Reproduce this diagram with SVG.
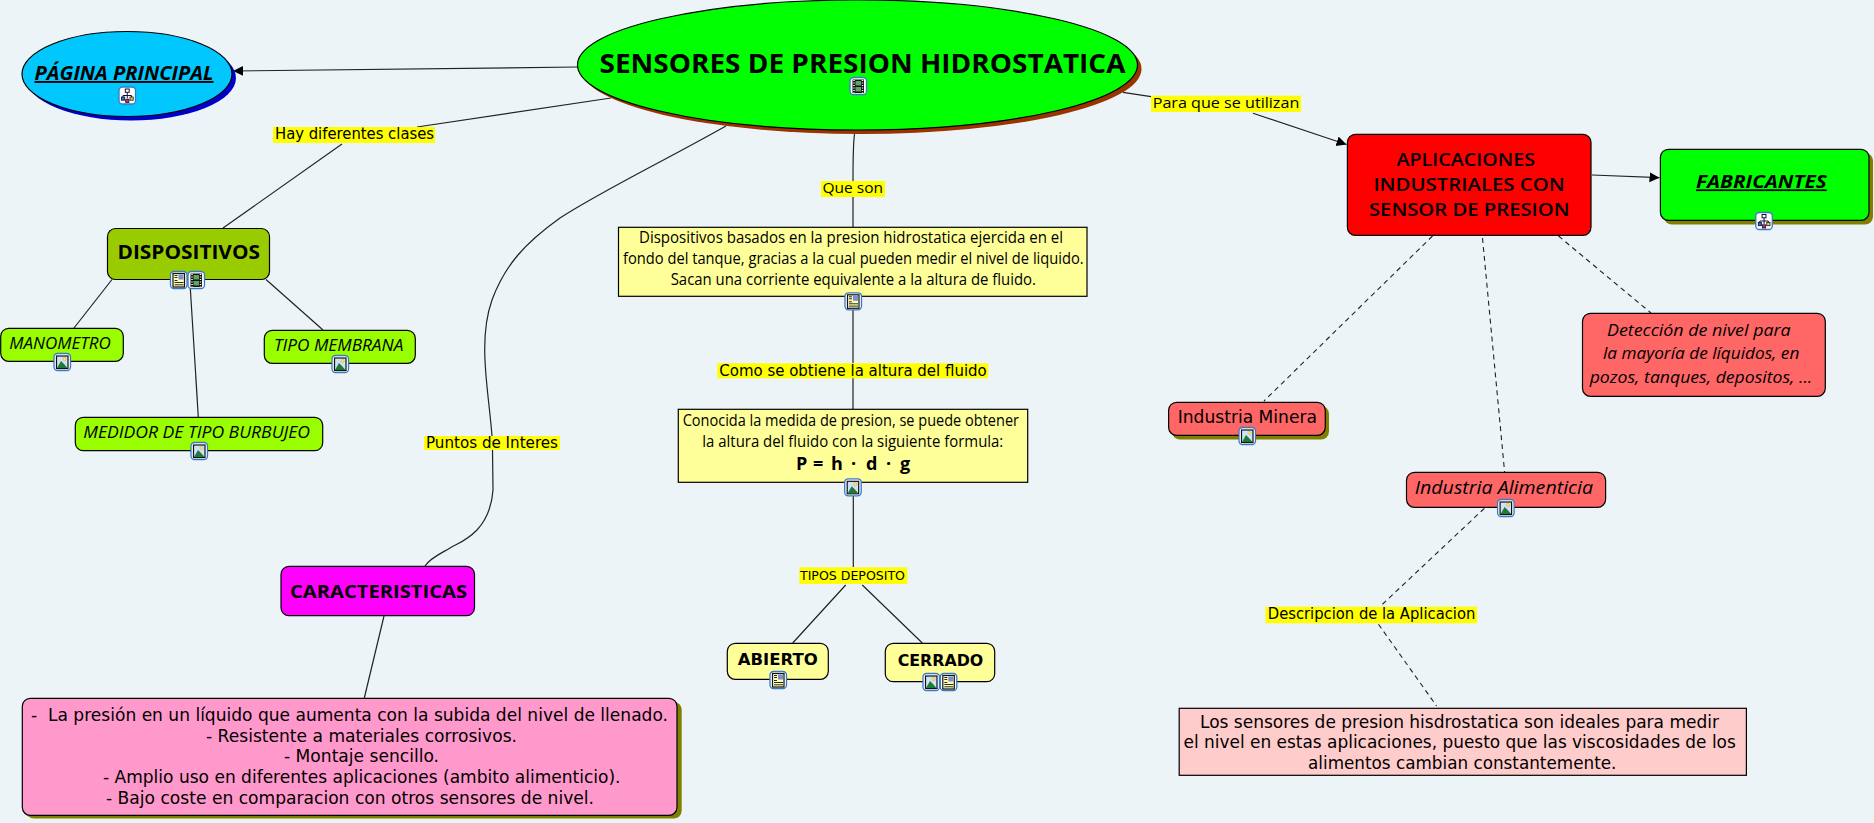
<svg xmlns="http://www.w3.org/2000/svg" width="1874" height="823" viewBox="0 0 1874 823">
<style>
text{font-family:"Open Sans","Noto Sans","DejaVu Sans",sans-serif;fill:#000;white-space:pre}
.v{font-family:"DejaVu Sans","Liberation Sans",sans-serif}
.b{font-weight:700}
.i{font-style:italic}
.u{text-decoration:underline}
.n{stroke:#000;stroke-width:1.2}
.c{fill:none;stroke:#222;stroke-width:1.2}
.d{fill:none;stroke:#222;stroke-width:1.1;stroke-dasharray:5 4}
.l{fill:#ff0}
.s{stroke:none}
</style>
<defs>
<marker id="arrow" markerUnits="userSpaceOnUse" markerWidth="11" markerHeight="11" refX="10" refY="5" orient="auto"><path d="M0 0L10 5L0 10Z" fill="#000"/></marker>
<g id="frame"><rect x="-8" y="-8.500" width="16.500" height="17" rx="3.500" fill="#fff" stroke="#3a78c8" stroke-width="1.300"/></g>
<g id="img"><use href="#frame"/><rect x="-5.500" y="-6" width="11.500" height="12.500" fill="#cfe2f8" stroke="#111" stroke-width="1.200"/><circle cx="2.500" cy="-3" r="1.600" fill="#ffe680" stroke="#b90" stroke-width=".4"/><path d="M-5 6L-1 -1L2 2L5.500 6Z" fill="#1f7a35"/></g>
<g id="doc"><use href="#frame"/><rect x="-5.500" y="-6.500" width="11.500" height="13.500" fill="#ffffb8" stroke="#111" stroke-width="1.200"/><rect x="0" y="-5.500" width="5" height="5" fill="#7a8ed8"/><path d="M-4 -4.500H-1M-4 -2.500H-1M-4 .5H-1M-4 2.500H5M-4 4.800H5" stroke="#111" stroke-width=".9"/></g>
<g id="film"><use href="#frame"/><rect x="-5.500" y="-6.500" width="11.500" height="13.500" fill="#111"/><rect x="-2.500" y="-5" width="5.500" height="4.500" fill="#5fa55f"/><rect x="-2.500" y="1" width="5.500" height="4.500" fill="#5fa55f"/><path d="M-4 -6V7M4.500 -6V7" stroke="#fff" stroke-width="1.500" stroke-dasharray="1 1.500"/></g>
<g id="map"><use href="#frame"/><path d="M.25 -3V3M-4 1.500V0H4.500V1.500" fill="none" stroke="#113" stroke-width="1"/><rect x="-1.700" y="-6.500" width="3.900" height="3.300" fill="#fff" stroke="#113" stroke-width="1"/><rect x="-5.500" y="1.500" width="3.200" height="3.200" fill="#36c" stroke="#113" stroke-width=".8"/><rect x="3" y="1.500" width="3.200" height="3.200" fill="#fc3" stroke="#113" stroke-width=".8"/><rect x="-1.300" y="3.800" width="3.200" height="3.200" fill="#c33" stroke="#113" stroke-width=".8"/></g>
</defs>
<rect width="1874" height="823" fill="#edf4f7"/>

<g id="connectors">
<path class="c" marker-end="url(#arrow)" d="M578 67L233 71"/>
<path class="c" d="M611 98L417 127"/>
<path class="c" d="M342 144L223 228"/>
<path class="c" d="M112 279.500L74 328"/>
<path class="c" d="M266 279.500L323 330"/>
<path class="c" d="M190.300 288L198.300 417"/>
<path class="c" d="M726 126C660 163 600 192 560 218C525 243 505 265 492 300C485 320 484 340 485 360C486 385 490 410 492 436M492.500 450L493 490C492 505 488 518 477 530C465 542 458 543 450 548C440 554 430 558 425 566"/>
<path class="c" d="M384 616L364.300 698"/>
<path class="c" d="M854.500 134C853 145 853 160 853 181M853 197V227M853 310V363M853 378V409M853.300 496V567M845.700 585L792.700 643M862.300 585L922.300 643"/>
<path class="c" d="M1123 92.300L1151 96.700"/>
<path class="c" marker-end="url(#arrow)" d="M1253 113.300L1346.500 144.500"/>
<path class="c" marker-end="url(#arrow)" d="M1592 175L1659.500 177.700"/>
<path class="d" d="M1432.500 236L1264 401"/>
<path class="d" d="M1482.500 238L1504.600 472"/>
<path class="d" d="M1558.500 236L1651 313"/>
<path class="d" d="M1484.400 508.300L1382.400 604.300"/>
<path class="d" d="M1378.500 624.300L1436.600 706"/>
</g>

<g id="lbl-hay"><rect class="l" x="273" y="127" width="162" height="16"/><text class="v" x="275" y="139.300" font-size="15" textLength="159" lengthAdjust="spacingAndGlyphs">Hay diferentes clases</text></g>
<g id="lbl-puntos"><rect class="l" x="424" y="436" width="136" height="14"/><text class="v" x="426" y="448" font-size="15" textLength="132" lengthAdjust="spacingAndGlyphs">Puntos de Interes</text></g>
<g id="lbl-que"><rect class="l" x="821" y="181" width="64" height="16"/><text x="822.500" y="193.300" font-size="15" textLength="60.500" lengthAdjust="spacingAndGlyphs">Que son</text></g>
<g id="lbl-como"><rect class="l" x="717.300" y="363.300" width="271" height="15"/><text class="v" x="719.300" y="375.700" font-size="15" textLength="267.400" lengthAdjust="spacingAndGlyphs">Como se obtiene la altura del fluido</text></g>
<g id="lbl-tipos"><rect class="l" x="799.300" y="567.300" width="108" height="16.700"/><text class="v" x="800" y="580" font-size="13" textLength="105" lengthAdjust="spacingAndGlyphs">TIPOS DEPOSITO</text></g>
<g id="lbl-para"><rect class="l" x="1151" y="95.700" width="150" height="16.300"/><text x="1152.700" y="108.300" font-size="15" textLength="146.600" lengthAdjust="spacingAndGlyphs">Para que se utilizan</text></g>
<g id="lbl-desc"><rect class="l" x="1265.400" y="606.700" width="211.600" height="16.600"/><text class="v" x="1267.800" y="619.300" font-size="15" textLength="207.500" lengthAdjust="spacingAndGlyphs">Descripcion de la Aplicacion</text></g>

<g id="pagina">
<ellipse class="s" cx="131" cy="78" rx="105" ry="42.500" fill="#00c"/>
<ellipse class="n" cx="127" cy="74" rx="105" ry="42.500" fill="#00c8ff"/>
<text class="b i u" x="34.500" y="80" font-size="19" textLength="179" lengthAdjust="spacingAndGlyphs">PÁGINA PRINCIPAL</text>
<use href="#map" x="127" y="95.500"/>
</g>
<g id="central">
<ellipse class="s" cx="861.500" cy="69" rx="280" ry="65" fill="#930"/>
<ellipse class="n" cx="857.500" cy="65" rx="280" ry="65" fill="#0f0"/>
<text class="b" x="599.500" y="72.700" font-size="26" textLength="526" lengthAdjust="spacingAndGlyphs">SENSORES DE PRESION HIDROSTATICA</text>
<use href="#film" x="858" y="86"/>
</g>
<g id="dispositivos">
<rect class="n" x="107.500" y="228.500" width="162" height="51" rx="8" fill="#9c0"/>
<text class="b" x="117.500" y="259.300" font-size="19" textLength="142.500" lengthAdjust="spacingAndGlyphs">DISPOSITIVOS</text>
<use href="#doc" x="178.500" y="280"/><use href="#film" x="196" y="280"/>
</g>
<g id="manometro">
<rect class="n" x="0.700" y="328.300" width="122.600" height="33" rx="8" fill="#9f0"/>
<text class="i" x="9.300" y="349.300" font-size="16" textLength="101.400" lengthAdjust="spacingAndGlyphs">MANOMETRO</text>
<use href="#img" x="62" y="362"/>
</g>
<g id="membrana">
<rect class="n" x="264.300" y="330.300" width="151" height="33" rx="8" fill="#9f0"/>
<text class="i" x="274" y="351.300" font-size="16" textLength="129.300" lengthAdjust="spacingAndGlyphs">TIPO MEMBRANA</text>
<use href="#img" x="340" y="364"/>
</g>
<g id="medidor">
<rect class="n" x="75.300" y="417.300" width="247.400" height="33.400" rx="8" fill="#9f0"/>
<text class="i" x="83.300" y="438.300" font-size="16" textLength="226.700" lengthAdjust="spacingAndGlyphs">MEDIDOR DE TIPO BURBUJEO</text>
<use href="#img" x="199" y="451"/>
</g>
<g id="caracteristicas">
<rect class="n" x="281" y="566.300" width="193.500" height="49.400" rx="8" fill="#f0f"/>
<text class="b" x="290" y="598.300" font-size="18" textLength="177" lengthAdjust="spacingAndGlyphs">CARACTERISTICAS</text>
</g>
<g id="lista">
<rect class="s" x="26" y="702" width="655.700" height="116.500" rx="8" fill="#808000"/>
<rect class="n" x="22.300" y="698.300" width="654.700" height="117" rx="8" fill="#f9c"/>
<text class="v" x="31" y="721" font-size="17" textLength="637" lengthAdjust="spacingAndGlyphs">-  La presión en un líquido que aumenta con la subida del nivel de llenado.</text>
<text class="v" x="206" y="741.700" font-size="17" textLength="311" lengthAdjust="spacingAndGlyphs">- Resistente a materiales corrosivos.</text>
<text class="v" x="284" y="762.300" font-size="17" textLength="155" lengthAdjust="spacingAndGlyphs">- Montaje sencillo.</text>
<text class="v" x="103" y="783" font-size="17" textLength="517.500" lengthAdjust="spacingAndGlyphs">- Amplio uso en diferentes aplicaciones (ambito alimenticio).</text>
<text class="v" x="106" y="803.700" font-size="17" textLength="488" lengthAdjust="spacingAndGlyphs">- Bajo coste en comparacion con otros sensores de nivel.</text>
</g>
<g id="definicion">
<rect class="n" x="618.500" y="227.300" width="468.500" height="69" fill="#ff9"/>
<text x="639" y="243.300" font-size="15.500" textLength="424" lengthAdjust="spacingAndGlyphs">Dispositivos basados en la presion hidrostatica ejercida en el</text>
<text x="623" y="264" font-size="15.500" textLength="460.700" lengthAdjust="spacingAndGlyphs">fondo del tanque, gracias a la cual pueden medir el nivel de liquido.</text>
<text x="670.700" y="285" font-size="15.500" textLength="365.300" lengthAdjust="spacingAndGlyphs">Sacan una corriente equivalente a la altura de fluido.</text>
<use href="#doc" x="853" y="301.300"/>
</g>
<g id="formula">
<rect class="n" x="678.300" y="409.300" width="349.400" height="73" fill="#ff9"/>
<text x="682.700" y="426" font-size="15.500" textLength="336.300" lengthAdjust="spacingAndGlyphs">Conocida la medida de presion, se puede obtener</text>
<text x="702.300" y="447" font-size="15.500" textLength="301" lengthAdjust="spacingAndGlyphs">la altura del fluido con la siguiente formula:</text>
<text class="b" y="470" font-size="18"><tspan x="796">P</tspan> <tspan x="813">=</tspan> <tspan x="831">h</tspan> <tspan x="851">·</tspan> <tspan x="866">d</tspan> <tspan x="886">·</tspan> <tspan x="900">g</tspan></text>
<use href="#img" x="852.700" y="487.300"/>
</g>
<g id="abierto">
<rect class="n" x="727.300" y="643.300" width="101" height="36" rx="8" fill="#ff9"/>
<text class="v b" x="737.700" y="665" font-size="16" textLength="80" lengthAdjust="spacingAndGlyphs">ABIERTO</text>
<use href="#doc" x="778" y="680"/>
</g>
<g id="cerrado">
<rect class="n" x="885.300" y="643.300" width="109.400" height="38.400" rx="8" fill="#ff9"/>
<text class="v b" x="897.700" y="665.700" font-size="16" textLength="85.600" lengthAdjust="spacingAndGlyphs">CERRADO</text>
<use href="#img" x="931" y="682"/><use href="#doc" x="948.300" y="682"/>
</g>
<g id="aplicaciones">
<rect class="n" x="1347.400" y="134.300" width="243.600" height="101" rx="8" fill="#f00"/>
<text x="1396.400" y="166" font-size="18" font-weight="600" textLength="138.600" lengthAdjust="spacingAndGlyphs">APLICACIONES</text>
<text x="1373.400" y="191.300" font-size="18" font-weight="600" textLength="191.300" lengthAdjust="spacingAndGlyphs">INDUSTRIALES CON</text>
<text x="1369" y="216" font-size="18" font-weight="600" textLength="200.500" lengthAdjust="spacingAndGlyphs">SENSOR DE PRESION</text>
</g>
<g id="fabricantes">
<rect class="s" x="1664" y="153" width="209" height="71.500" rx="8" fill="#808000"/>
<rect class="n" x="1660.400" y="149.300" width="208.600" height="71" rx="8" fill="#0f0"/>
<text class="b i u" x="1696" y="188.300" font-size="18" textLength="130.700" lengthAdjust="spacingAndGlyphs">FABRICANTES</text>
<use href="#map" x="1763.800" y="221"/>
</g>
<g id="deteccion">
<rect class="n" x="1582.500" y="313.300" width="242.800" height="83" rx="8" fill="#f66"/>
<text class="i" x="1607" y="336" font-size="17" textLength="183.700" lengthAdjust="spacingAndGlyphs">Detección de nivel para</text>
<text class="i" x="1603" y="359.300" font-size="17" textLength="196.300" lengthAdjust="spacingAndGlyphs">la mayoría de líquidos, en</text>
<text class="i" x="1589.700" y="383.300" font-size="17" textLength="222.600" lengthAdjust="spacingAndGlyphs">pozos, tanques, depositos, ...</text>
</g>
<g id="minera">
<rect class="s" x="1172" y="406" width="157" height="33.500" rx="8" fill="#808000"/>
<rect class="n" x="1168.600" y="402.300" width="156.700" height="33" rx="8" fill="#f66"/>
<text class="v" x="1177.700" y="423.300" font-size="18" textLength="139.300" lengthAdjust="spacingAndGlyphs">Industria Minera</text>
<use href="#img" x="1247" y="436"/>
</g>
<g id="alimenticia">
<rect class="n" x="1406.500" y="472.300" width="199.100" height="35" rx="8" fill="#f66"/>
<text class="i" x="1414.700" y="494.300" font-size="18" textLength="178.300" lengthAdjust="spacingAndGlyphs">Industria Alimenticia</text>
<use href="#img" x="1505.600" y="508"/>
</g>
<g id="descripcion">
<rect class="n" x="1179.200" y="708.300" width="567.200" height="67" fill="#fcc"/>
<text class="v" x="1200" y="727.700" font-size="17" textLength="519" lengthAdjust="spacingAndGlyphs">Los sensores de presion hisdrostatica son ideales para medir</text>
<text class="v" x="1183.600" y="748.300" font-size="17" textLength="552.200" lengthAdjust="spacingAndGlyphs">el nivel en estas aplicaciones, puesto que las viscosidades de los</text>
<text class="v" x="1308" y="769" font-size="17" textLength="308.400" lengthAdjust="spacingAndGlyphs">alimentos cambian constantemente.</text>
</g>
</svg>
